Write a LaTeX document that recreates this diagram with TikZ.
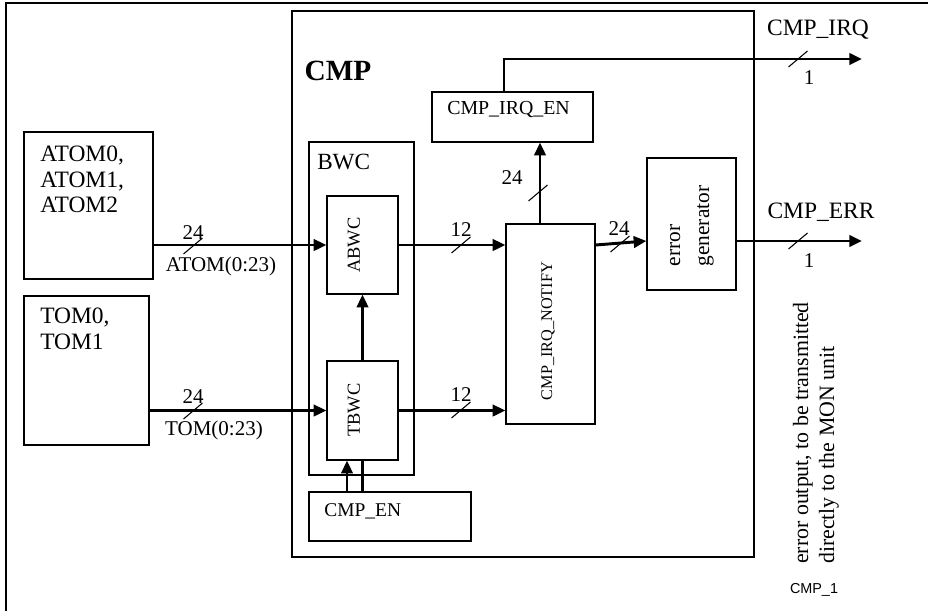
\documentclass[tikz,border=0pt]{standalone}
\usepackage{fontspec}
\setmainfont{Liberation Serif}
\newfontfamily\labsans{Liberation Sans}
\usetikzlibrary{arrows.meta,fit}
\begin{document}
\begin{tikzpicture}[x=0.75pt,y=-0.75pt,
  boxst/.style={draw,line width=0.95pt,inner sep=0pt},
  arr/.style={line width=2.2pt,-{Triangle[length=9.5pt,width=8.5pt]}},
  wire/.style={line width=2.2pt},
  slashst/.style={line width=0.8pt},
  txt/.style={font=\fontsize{15.75}{18.75}\selectfont,inner sep=0pt},
  every node/.style={inner sep=0pt}]
\useasboundingbox (0,0) rectangle (928,611);
% outer frame (partial)
\coordinate (fa) at (6,611);
\coordinate (fb) at (6,3);
\coordinate (fc) at (928,3);
\draw[line width=1.3pt] (fa) -- (fb) -- (fc);
% boxes
\node[boxst,fit={(292,11) (754,557)}] (cmp) {};
\node[boxst,fit={(24,132) (153,279)}] (atom) {};
\node[boxst,fit={(24,296) (149,445)}] (tom) {};
\node[boxst,fit={(309,142) (414,475)}] (bwc) {};
\node[boxst,fit={(327,196) (398,294)}] (abwc) {};
\node[boxst,fit={(327,361) (398,460)}] (tbwc) {};
\node[boxst,fit={(309,492) (471,541)}] (cmpen) {};
\node[boxst,fit={(506,224) (595,424)}] (notify) {};
\node[boxst,fit={(432,92) (593,142)}] (irqen) {};
\node[boxst,fit={(647,158) (736,290)}] (errgen) {};
% texts
\node[font=\fontsize{22}{26}\bfseries] (cmpt) at (338,71) {CMP};
\node[font=\fontsize{17.4}{20}\selectfont,anchor=west] (bwct) at (317,162) {BWC};
\node[font=\fontsize{17.6}{19.1}\selectfont,anchor=north west,align=left] (atomt) at (40,146) {ATOM0,\\ATOM1,\\ATOM2};
\node[font=\fontsize{17.6}{19.1}\selectfont,anchor=north west,align=left] (tomt) at (40,308) {TOM0,\\TOM1};
\node[font=\fontsize{14.9}{18}\selectfont,anchor=west] (irqent) at (447,110) {CMP\_IRQ\_EN};
\node[font=\fontsize{14.6}{18}\selectfont,anchor=west] (cmpent) at (324,511) {CMP\_EN};
\node[font=\fontsize{13.8}{16}\selectfont,rotate=90] (abwct) at (354,245) {ABWC};
\node[font=\fontsize{13.8}{16}\selectfont,rotate=90] (tbwct) at (354,410) {TBWC};
\node[font=\fontsize{12.2}{14}\selectfont,rotate=90] (notifyt) at (548,331) {CMP\_IRQ\_NOTIFY};
\node[font=\fontsize{16}{21.75}\selectfont,rotate=90,align=left] (errgent) at (692,226) {error\\generator};
\node[font=\fontsize{16.4}{19.5}\selectfont,rotate=90,align=left] (note) at (816,433) {error output, to be transmitted\\directly to the MON unit};
\node[font=\fontsize{10.8}{13}\labsans] (cmp1) at (814,590) {CMP\_1};
% output coordinates
\coordinate (irqout) at (862,59);
\coordinate (errout) at (862,241);
% connectors
\draw[arr] (atom.east |- abwc.west) -- (abwc.west);
\draw[arr] (tom.east |- tbwc.west) -- (tbwc.west);
\draw[arr] (abwc.east) -- (abwc.east -| notify.west);
\draw[arr] (tbwc.east) -- (tbwc.east -| notify.west);
\draw[arr] (tbwc.north) -- (abwc.south);
\draw[arr] (cmpen.north -| 347,0) -- (tbwc.south -| 347,0);
\draw[wire] (cmpen.north -| tbwc.south) -- (tbwc.south);
\draw[arr] (notify.north -| 540,0) -- (irqen.south -| 540,0);
\draw[arr] (irqen.north -| 504,0) |- (irqout);
\draw[arr] (notify.east |- 0,245) -- (errgen.west |- 0,241);
\draw[arr] (errgen.east |- errout) -- (errout);
% bus width marks
\foreach \mx/\my in {193/246, 193/411, 461/245, 461/410, 538/193, 620/244, 798/59, 798/241}
  \draw[slashst] (\mx,\my) ++(-9.5,8) -- ++(19,-16);
% bus labels
\node[txt] (l1) at (193,233) {24};
\node[txt] (l2) at (221,266) {ATOM(0:23)};
\node[txt] (l3) at (193,397) {24};
\node[txt] (l4) at (214,430) {TOM(0:23)};
\node[txt] (l5) at (461,230) {12};
\node[txt] (l6) at (461,395) {12};
\node[txt] (l7) at (512,178) {24};
\node[txt] (l8) at (619,229) {24};
\node[font=\fontsize{17.6}{20}\selectfont] (l9) at (818,30) {CMP\_IRQ};
\node[txt] (l10) at (809,78) {1};
\node[font=\fontsize{17.6}{20}\selectfont] (l11) at (821,212) {CMP\_ERR};
\node[txt] (l12) at (809,261) {1};
\end{tikzpicture}
\end{document}
